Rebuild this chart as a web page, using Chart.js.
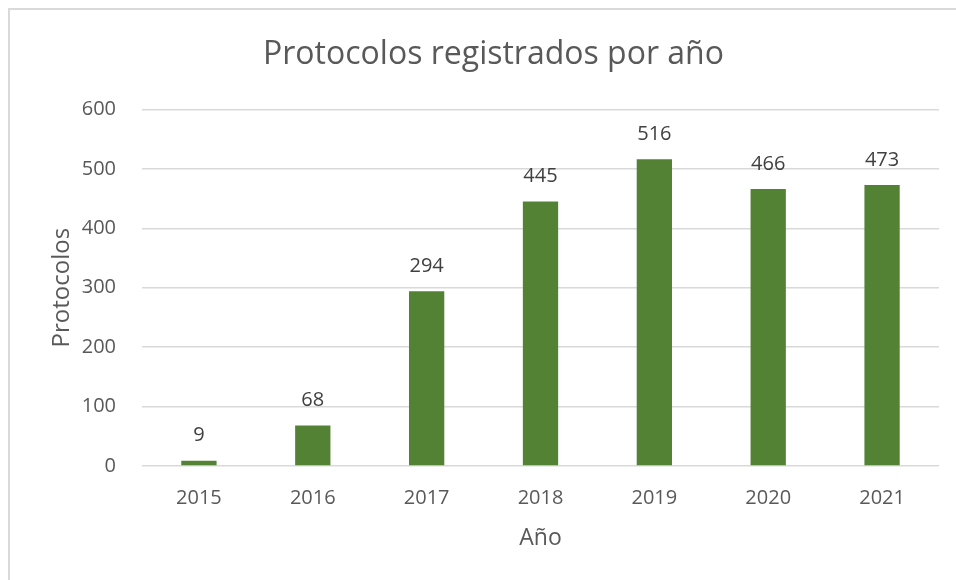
<!DOCTYPE html>
<html>
<head>
<meta charset="utf-8">
<script src="https://cdn.jsdelivr.net/npm/chart.js@4.4.1/dist/chart.umd.min.js"></script>
<style>
  html, body { margin: 0; padding: 0; background: #fff; overflow: hidden; }
  .frame {
    position: absolute; left: 8px; top: 8px; width: 1000px; height: 700px;
    border-top: 2px solid #d9d9d9; border-left: 2px solid #d9d9d9;
  }
  .wrap { position: absolute; left: 0; top: 0; width: 956px; height: 580px; }
</style>
</head>
<body>
<div class="frame"></div>
<div class="wrap"><canvas id="grafico" width="956" height="580"></canvas></div>
<script>
// datos del gráfico
const anios = ['2015', '2016', '2017', '2018', '2019', '2020', '2021'];
const protocolos = [9, 68, 294, 445, 516, 466, 473];
const ticksY = [0, 100, 200, 300, 400, 500, 600];

const fuente = "'Open Sans', sans-serif";
const gris = '#595959';

// etiquetas de valor encima de cada barra
const etiquetasBarras = {
    id: 'etiquetasBarras',
    afterDatasetsDraw(chart) {
        const ctx = chart.ctx;
        const meta = chart.getDatasetMeta(0);
        ctx.save();
        ctx.font = '20px ' + fuente;
        ctx.fillStyle = '#404040';
        ctx.textAlign = 'center';
        ctx.textBaseline = 'bottom';
        meta.data.forEach((bar, i) => {
            ctx.fillText(chart.data.datasets[0].data[i], bar.x, bar.y - 15);
        });
        ctx.restore();
    }
};

new Chart(document.getElementById('grafico'), {
    type: 'bar',
    data: {
        labels: anios,
        datasets: [{
            label: 'Protocolos',
            data: protocolos,
            backgroundColor: '#548235',
            borderWidth: 0,
            barPercentage: 0.31,
            categoryPercentage: 1
        }]
    },
    options: {
        responsive: false,
        animation: false,
        devicePixelRatio: 1,
        layout: { padding: { left: 48, right: 17, top: 36, bottom: 28 } },
        plugins: {
            legend: { display: false },
            tooltip: { enabled: false },
            title: {
                display: true,
                text: 'Protocolos registrados por año',
                color: gris,
                font: { family: fuente, size: 32, weight: 'normal' },
                padding: { top: 0, bottom: 35 }
            }
        },
        scales: {
            x: {
                afterFit: s => { s.height = 86; },
                grid: { display: false },
                border: { display: false },
                ticks: { color: gris, font: { family: fuente, size: 20 }, padding: 12 },
                title: {
                    display: true, text: 'Año', color: gris,
                    font: { family: fuente, size: 23 }, padding: { top: 0, bottom: 0 }
                }
            },
            y: {
                min: 0,
                max: 600,
                afterFit: s => { s.width = 94; },
                afterBuildTicks: s => { s.ticks = ticksY.map(v => ({ value: v })); },
                grid: { color: '#d9d9d9', lineWidth: 1.5, drawTicks: false },
                border: { display: false },
                ticks: { color: gris, font: { family: fuente, size: 20 }, padding: 26 },
                title: {
                    display: true, text: 'Protocolos', color: gris,
                    font: { family: fuente, size: 24 }, padding: { top: 0, bottom: 0 }
                }
            }
        }
    },
    plugins: [etiquetasBarras]
});
</script>
</body>
</html>
